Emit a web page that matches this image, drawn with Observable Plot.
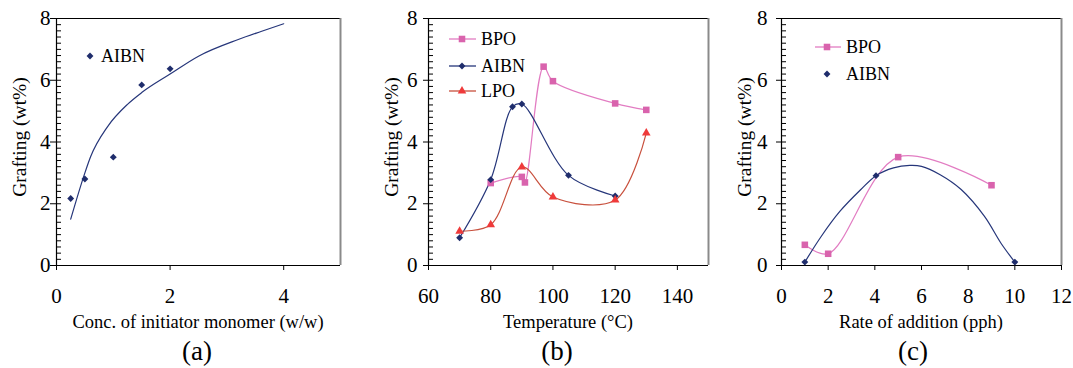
<!DOCTYPE html>
<html>
<head>
<meta charset="utf-8">
<script src="https://cdn.jsdelivr.net/npm/d3@7"></script>
<script src="https://cdn.jsdelivr.net/npm/@observablehq/plot@0.6"></script>
<style>
  html, body { margin: 0; padding: 0; background: #fff; }
  #wrap { position: relative; width: 1073px; height: 368px; overflow: hidden; font-family: 'Liberation Serif', 'Times New Roman', serif; }
  #wrap svg { font-family: 'Liberation Serif', 'Times New Roman', serif !important; }
  .panel { position: absolute; top: 0; }
  .cap { position: absolute; top: 333px; width: 60px; margin-left: -30px; text-align: center; font-size: 27px; line-height: 36px; color: #000; }
  #legend { position: absolute; left: 0; top: 0; pointer-events: none; }
</style>
</head>
<body>
<div id="wrap"></div>
<script>
// ---------- data ----------
// Panel (a): grafting vs concentration of initiator/monomer (AIBN)
const aConc = [0.25, 0.5, 1.0, 1.5, 2.0];
const aAIBN = [2.17, 2.8, 3.51, 5.85, 6.37];
// trend line
const aTrendX = [0.25, 0.5, 0.6, 0.9, 1.25, 1.5, 2.0, 2.5, 3.2, 3.6, 4.0];
const aTrendY = [1.5, 3.0, 3.52, 4.5, 5.22, 5.6, 6.2, 6.78, 7.32, 7.58, 7.83];

// Panel (b): grafting vs temperature
const bTempBPO = [80, 90, 91, 97, 100, 120, 130];
const bBPO = [2.67, 2.87, 2.69, 6.44, 5.97, 5.25, 5.04];
const bTempAIBN = [70, 80, 87, 90, 105, 120];
const bAIBN = [0.9, 2.78, 5.14, 5.23, 2.92, 2.25];
const bTempLPO = [70, 80, 90, 100, 120, 130];
const bLPO = [1.11, 1.32, 3.19, 2.22, 2.12, 4.29];

// Panel (c): grafting vs rate of addition
const cRateBPO = [1, 2, 5, 9];
const cBPO = [0.67, 0.38, 3.51, 2.6];
const cRateAIBN = [1, 4.05, 10];
const cAIBN = [0.11, 2.91, 0.11];
// AIBN trend line
const cTrendX = [1, 1.7, 2.5, 3.4, 4.05, 4.8, 5.5, 6.0, 6.8, 7.7, 8.7, 9.4, 10];
const cTrendY = [0.11, 0.94, 1.75, 2.46, 2.91, 3.16, 3.24, 3.21, 2.94, 2.46, 1.59, 0.73, 0.11];

// axes
const yDomain = [0, 8];
const yTicks = [0, 2, 4, 6, 8];
const yMinor = d3.range(0, 8.001, 0.2);
const aXDomain = [0, 5], aXTicks = [0, 2, 4];
const bXDomain = [60, 150], bXTicks = [60, 80, 100, 120, 140];
const cXDomain = [0, 12], cXTicks = [0, 2, 4, 6, 8, 10, 12];
const yLabel = "Grafting (wt%)";
const xLabels = ["Conc. of initiator monomer (w/w)", "Temperature (°C)", "Rate of addition (pph)"];
const captions = ["(a)", "(b)", "(c)"];

// colours
const navy = "#26367a", navyMk = "#1f2d6c";
const pinkLine = "#e27cc2", pinkMk = "#d963ad";
const redLine = "#c8503d", redMk = "#ef3a3a";

const zip = (xs, ys) => xs.map((x, i) => ({x, y: ys[i]}));
const FONT = "'Liberation Serif', 'Times New Roman', serif";
const H = 335, MT = 18, MB = 70;
const fmt = d3.format("d");

function panel({width, marginLeft, marginRight, xDomain, xTicks, tickSize, tickPadding, marks}) {
  const innerW = width - marginLeft - marginRight;
  return Plot.plot({
    width, height: H, marginLeft, marginRight, marginTop: MT, marginBottom: MB,
    style: `font-family: ${FONT}; font-size: 21px; color: #000; background: transparent; overflow: visible;`,
    x: {domain: xDomain},
    y: {domain: yDomain},
    marks: [
      Plot.ruleY(yDomain.slice(1), {stroke: "#000", strokeWidth: 1}),
      Plot.ruleX(xDomain.slice(1), {stroke: "#8a8a8a", strokeWidth: 2}),
      Plot.tickY(yMinor, {y: d => d, stroke: "#000", strokeWidth: 1, insetRight: innerW - 5}),
      Plot.axisY({ticks: yTicks, tickSize, tickPadding, tickFormat: fmt, label: null}),
      Plot.axisX({ticks: xTicks, tickSize: 5, tickPadding: 18, tickFormat: fmt, label: null}),
      Plot.ruleX(xDomain.slice(0, 1), {stroke: "#000", strokeWidth: 1.2}),
      Plot.ruleY(yDomain.slice(0, 1), {stroke: "#000", strokeWidth: 1.2}),
      ...marks
    ]
  });
}

const plotA = panel({
  width: 357, marginLeft: 56, marginRight: 17, xDomain: aXDomain, xTicks: aXTicks,
  tickSize: 6, tickPadding: 0,
  marks: [
    Plot.line(zip(aTrendX, aTrendY), {x: "x", y: "y", stroke: navy, strokeWidth: 1.2, curve: "monotone-x"}),
    Plot.dot(zip(aConc, aAIBN), {x: "x", y: "y", symbol: "diamond2", r: 3.1, fill: navyMk, stroke: "none"})
  ]
});

const plotB = panel({
  width: 357, marginLeft: 71, marginRight: 6, xDomain: bXDomain, xTicks: bXTicks,
  tickSize: 5, tickPadding: 6,
  marks: [
    Plot.line(zip(bTempBPO, bBPO), {x: "x", y: "y", stroke: pinkLine, strokeWidth: 1.2, curve: "catmull-rom"}),
    Plot.line(zip(bTempAIBN, bAIBN), {x: "x", y: "y", stroke: navy, strokeWidth: 1.2, curve: "catmull-rom"}),
    Plot.line(zip(bTempLPO, bLPO), {x: "x", y: "y", stroke: redLine, strokeWidth: 1.2, curve: "catmull-rom"}),
    Plot.dot(zip(bTempBPO, bBPO), {x: "x", y: "y", symbol: "square", r: 3.7, fill: pinkMk, stroke: "none"}),
    Plot.dot(zip(bTempAIBN, bAIBN), {x: "x", y: "y", symbol: "diamond2", r: 3.1, fill: navyMk, stroke: "none"}),
    Plot.dot(zip(bTempLPO, bLPO), {x: "x", y: "y", symbol: "triangle", r: 3.2, fill: redMk, stroke: "none"})
  ]
});

const plotC = panel({
  width: 359, marginLeft: 67, marginRight: 12, xDomain: cXDomain, xTicks: cXTicks,
  tickSize: 5, tickPadding: 9,
  marks: [
    Plot.line(zip(cRateBPO, cBPO), {x: "x", y: "y", stroke: pinkLine, strokeWidth: 1.2, curve: "catmull-rom"}),
    Plot.line(zip(cTrendX, cTrendY), {x: "x", y: "y", stroke: navy, strokeWidth: 1.2, curve: "catmull-rom"}),
    Plot.dot(zip(cRateBPO, cBPO), {x: "x", y: "y", symbol: "square", r: 3.7, fill: pinkMk, stroke: "none"}),
    Plot.dot(zip(cRateAIBN, cAIBN), {x: "x", y: "y", symbol: "diamond2", r: 3.1, fill: navyMk, stroke: "none"})
  ]
});

const wrap = document.getElementById("wrap");
const panels = [
  {p: plotA, left: 0, ml: 56, w: 357, mr: 17},
  {p: plotB, left: 357, ml: 71, w: 357, mr: 6},
  {p: plotC, left: 714, ml: 67, w: 359, mr: 12}
];
panels.forEach(({p, left}) => {
  const d = document.createElement("div");
  d.className = "panel";
  d.style.left = left + "px";
  d.appendChild(p);
  wrap.appendChild(d);
});
[197, 557, 913].forEach((cx, i) => {
  const c = document.createElement("div");
  c.className = "cap";
  c.style.left = cx + "px";
  c.textContent = captions[i];
  wrap.appendChild(c);
});

// ---------- axis titles and legends ----------
const svg = d3.select(wrap).append("svg").attr("id", "legend").attr("width", 1073).attr("height", 368);
panels.forEach(({left, ml, w, mr}, i) => {
  const cx = left + (ml + w - mr) / 2;
  svg.append("text").attr("x", cx).attr("y", 328).attr("text-anchor", "middle")
    .attr("font-family", FONT).attr("font-size", 18.5).attr("fill", "#000").text(xLabels[i]);
  svg.append("text").attr("transform", `translate(${left + ml - 37},137) rotate(-90)`)
    .attr("text-anchor", "middle").attr("dy", "0.35em")
    .attr("font-family", FONT).attr("font-size", 19.5).attr("fill", "#000").text(yLabel);
});
const symPath = (type, r) => d3.symbol(type, Math.PI * r * r)();
function legendItem(x1, x2, mx, y, tx, label, line, sym, r, mk) {
  if (line) svg.append("line").attr("x1", x1).attr("x2", x2).attr("y1", y).attr("y2", y).attr("stroke", line).attr("stroke-width", 1.3);
  svg.append("path").attr("d", symPath(sym, r)).attr("transform", `translate(${mx},${y})`).attr("fill", mk);
  svg.append("text").attr("x", tx).attr("y", y).attr("dy", "0.35em").attr("font-family", FONT).attr("font-size", 18).attr("fill", "#000").text(label);
}
legendItem(0, 0, 90, 56, 101, "AIBN", null, d3.symbolDiamond2, 3.1, navyMk);
legendItem(449, 476, 462, 39, 481, "BPO", pinkLine, d3.symbolSquare, 3.7, pinkMk);
legendItem(449, 476, 462, 66, 481, "AIBN", navy, d3.symbolDiamond2, 3.1, navyMk);
legendItem(449, 476, 462, 91, 481, "LPO", redLine, d3.symbolTriangle, 3.2, redMk);
legendItem(815, 841, 827, 47, 846, "BPO", pinkLine, d3.symbolSquare, 3.7, pinkMk);
legendItem(0, 0, 827, 74, 846, "AIBN", null, d3.symbolDiamond2, 3.1, navyMk);
</script>
</body>
</html>
